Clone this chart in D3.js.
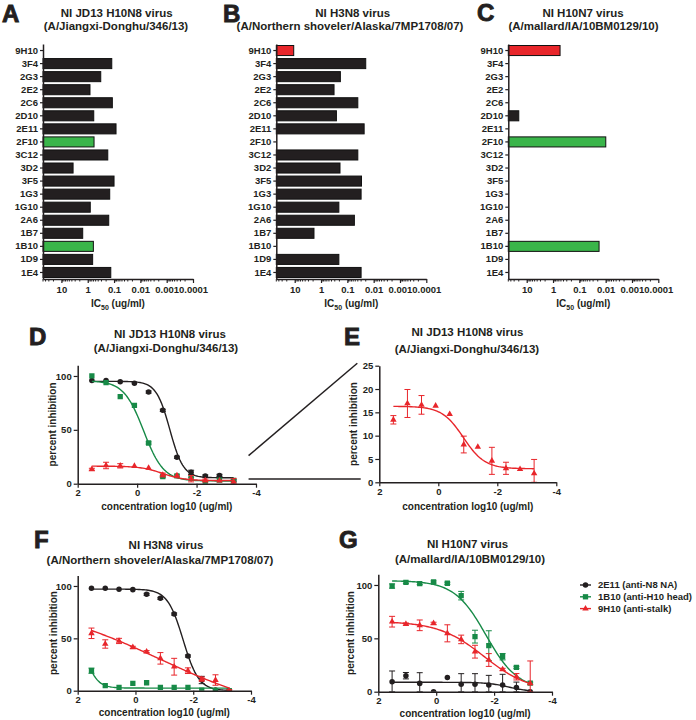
<!DOCTYPE html>
<html><head><meta charset="utf-8">
<script src="https://cdn.jsdelivr.net/npm/d3@7"></script>
<style>
body{margin:0;background:#fff;}
svg text{font-family:"Liberation Sans",Arial,sans-serif;font-weight:bold;fill:#231f20;}
</style></head><body>
<svg id="chart" width="696" height="720"></svg>
<script>
// ---------- DATA ----------
const antibodies = ["9H10","3F4","2G3","2E2","2C6","2D10","2E11","2F10","3C12","3D2","3F5","1G3","1G10","2A6","1B7","1B10","1D9","1E4"];
const antibodyTarget = ["stalk","NA","NA","NA","NA","NA","NA","head","NA","NA","NA","NA","NA","NA","NA","head","NA","NA"];
const ic50JD13  = [null,0.122,0.32,0.82,0.116,0.59,0.084,0.575,0.173,3.6,0.10,0.146,0.80,0.159,1.55,0.61,0.65,0.133];
const ic50H3N8  = [10.9,0.020,0.184,0.32,0.040,0.26,0.023,null,0.040,0.19,0.029,0.030,0.21,0.054,1.85,null,0.21,0.030];
const ic50H10N7 = [0.54,null,null,null,null,20,null,0.0099,null,null,null,null,null,null,null,0.0178,null,null];
const ic50Ticks = [10,1,0.1,0.01,0.001,0.0001];
const ic50TickLabels = ["10","1","0.1","0.01","0.001","0.0001"];

const logConc = [1.523,1.046,0.569,0.091,-0.386,-0.863,-1.340,-1.817,-2.294,-2.771,-3.248];
const concTicks = [2,0,-2,-4];
const seriesNames = ["2E11 (anti-N8 NA)","1B10 (anti-H10 head)","9H10 (anti-stalk)"];

// Panel D / E : JD13 H10N8
const jd13_2E11 = [95.7,95.7,94.7,93.2,85.1,68.1,24.5,10.5,7.1,7.7,2.7];
const jd13_2E11_sd = [0.5,0.5,0.5,0.5,1,1,1,2,1,1,1];
const jd13_1B10 = [100,93.8,80.8,72.8,37.8,6.5,7.2,5.0,1.0,3.4,3.0];
const jd13_1B10_sd = [0.5,0.5,0.5,0.5,1,1,1,1,0.5,0.5,0.5];
const jd13_9H10 = [13.4,16.9,16.6,16.4,14.6,8.1,7.6,4.6,3.0,2.8,1.9];
const jd13_9H10_sd = [0.9,3.0,2.0,0.5,0.3,1.8,0,2.9,1.3,0.4,3.0];
// fit params [top, bottom, logIC50, hill]
const jd13_fit_2E11 = [95,5.5,-1.1,1.9];
const jd13_fit_1B10 = [95.5,2.5,-0.22,1.3];
const jd13_fit_9H10 = [16.3,2.9,-0.85,1.2];

// Panel F : H3N8
const h3n8_2E11 = [97.8,97.8,96.8,96.5,92.0,88.2,73.2,33.1,10.2,0.6,0];
const h3n8_2E11_sd = [0.5,0.5,0.5,0.5,1,1,1,1,3.5,0.5,0.5];
const h3n8_1B10 = [19.1,4.8,3.2,7.0,7.6,3.2,3.2,3.2,0.6,0,0];
const h3n8_1B10_sd = [2.5,0.5,0.5,0.5,0.5,0.5,0.5,0.5,0.5,0.5,0.5];
const h3n8_9H10 = [54.8,44.6,47.5,41.4,37.3,30.9,22.9,19.1,11.0,10.2,0];
const h3n8_9H10_sd = [5,4,2.5,1,1,5.5,8,2.7,2,5,1];
const h3n8_fit_2E11 = [97,0,-1.65,1.6];
const h3n8_fit_1B10 = [100,2.5,1.885,1.89];
const h3n8_fit_9H10 = [85,-25,-0.86,0.2];

// Panel G : H10N7
const h10n7_2E11 = [9.4,15.0,7.8,0,13.4,6.9,6.9,6.3,6.3,4.0,0];
const h10n7_2E11_sd = [10,3,10,0.5,0.5,10,10,9,10,5,0.5];
const h10n7_1B10 = [99,102.5,101.3,102.8,101.6,90,51.6,43.1,32.8,22.8,8];
const h10n7_1B10_sd = [2,1,1,1,1,4,6,14,3,1,1];
const h10n7_9H10 = [65.6,63.4,62.2,64.1,54.7,49,37.5,29.7,20.9,14,7.8];
const h10n7_9H10_sd = [5,1,5,1,8,4,6,6,1,3,21];
const h10n7_fit_2E11 = [8.8,0,-2.5,1.2];
const h10n7_fit_1B10 = [104,2,-1.72,0.8];
const h10n7_fit_9H10 = [66,0,-1.654,0.553];

// ---------- STYLE ----------
const INK = "#231f20";
const barColor = d3.scaleOrdinal().domain(["NA","head","stalk"]).range([INK,"#3ab54a","#e8262b"]);
const lineColors = [INK,"#178a47","#e8262b"];
const svg = d3.select("#chart");

function styleAxis(g, fs){
  g.select(".domain").attr("stroke",INK).attr("stroke-width",1.5);
  g.selectAll(".tick line").attr("stroke",INK).attr("stroke-width",1.2);
  g.selectAll(".tick text").style("font-size",fs+"px").style("font-family",'"Liberation Sans",Arial,sans-serif').style("font-weight","bold").attr("fill",INK);
}
function letter(t,x,y){
  svg.append("text").attr("x",x).attr("y",y).text(t).style("font-size","24px")
    .attr("stroke",INK).attr("stroke-width",0.9);
}
function title(lines, xs, ys){
  lines.forEach((l,i)=>svg.append("text").attr("x",xs[i]).attr("y",ys[i]).attr("text-anchor","middle").style("font-size","11.5px").text(l));
}

// ---------- BAR PANELS ----------
function barPanel(x0, values){
  const x = d3.scaleLog().domain([50,0.0001]).range([x0, x0+150]);
  const y = d3.scaleBand().domain(antibodies).range([44,279]).paddingInner(0.23).paddingOuter(0.115);
  const g = svg.append("g");
  const rows = antibodies.map((a,i)=>({a, v:values[i], t:antibodyTarget[i]})).filter(d=>d.v!=null);
  g.selectAll("rect").data(rows).join("rect")
    .attr("x",x0).attr("y",d=>y(d.a)).attr("height",y.bandwidth())
    .attr("width",d=>x(d.v)-x0)
    .attr("fill",d=>barColor(d.t)).attr("stroke","#111").attr("stroke-width",1);
  // minor ticks
  const minors=[];
  for(let e=-4;e<=1;e++) for(let m=2;m<=9;m++){const v=m*Math.pow(10,e); if(v<=50 && v>=0.0001) minors.push(v);}
  g.append("g").selectAll("line").data(minors).join("line")
    .attr("x1",d=>x(d)).attr("x2",d=>x(d)).attr("y1",279).attr("y2",281.5)
    .attr("stroke",INK).attr("stroke-width",1);
  const xa = g.append("g").attr("transform","translate(0,279)")
    .call(d3.axisBottom(x).tickValues(ic50Ticks).tickFormat((d,i)=>ic50TickLabels[i]).tickSize(4).tickSizeOuter(0).tickPadding(3));
  styleAxis(xa,9.5);
  const ya = g.append("g").attr("transform",`translate(${x0},0)`)
    .call(d3.axisLeft(y).tickSize(3).tickSizeOuter(0).tickPadding(2));
  styleAxis(ya,9.5);
  const lbl = g.append("text").attr("x",x0+75).attr("y",307).attr("text-anchor","middle").style("font-size","10px");
  lbl.append("tspan").text("IC");
  lbl.append("tspan").attr("dy",2.5).style("font-size","7px").text("50");
  lbl.append("tspan").attr("dy",-2.5).text(" (ug/ml)");
}
barPanel(43, ic50JD13);
barPanel(276.3, ic50H3N8);
barPanel(508.3, ic50H10N7);
letter("A",2,22); letter("B",223,22); letter("C",477,21);
title(["NI JD13 H10N8 virus","(A/Jiangxi-Donghu/346/13)"],[116.7,116],[16.5,29.5]);
title(["NI H3N8 virus","(A/Northern shoveler/Alaska/7MP1708/07)"],[352.7,350],[16.5,29.5]);
title(["NI H10N7 virus","(A/mallard/IA/10BM0129/10)"],[583,583.5],[16.5,29.5]);

// ---------- LINE PANELS ----------
function fourPL(p, xv){ return p[1] + (p[0]-p[1])/(1+Math.pow(10,(p[2]-xv)*p[3])); }
const symbols = [d3.symbolCircle, d3.symbolSquare, d3.symbolTriangle];
const symSizes = [24, 28, 18];

function linePanel(cfg){
  const x = d3.scaleLinear().domain([2,-4]).range(cfg.xr);
  const y = d3.scaleLinear().domain(cfg.yd).range(cfg.yr);
  const g = svg.append("g");
  const clipId = "clip"+cfg.id;
  svg.append("clipPath").attr("id",clipId).append("rect")
    .attr("x",cfg.xr[0]).attr("y",cfg.yr[1]-10).attr("width",cfg.xr[1]-cfg.xr[0]+10).attr("height",cfg.yr[0]-cfg.yr[1]+10);
  const plot = g.append("g").attr("clip-path",`url(#${clipId})`);
  cfg.series.forEach((s,k)=>{
    if(!s) return;
    const col = lineColors[k];
    const pts = logConc.map((c,i)=>({c, v:s.vals[i], e:s.sd[i]}));
    const eg = plot.append("g").attr("stroke",col).attr("stroke-width",1);
    pts.filter(d=>d.e>0.8).forEach(d=>{
      const yt=y(d.v+d.e), yb=y(Math.max(cfg.yd[0],d.v-d.e)), xc=x(d.c);
      eg.append("line").attr("x1",xc).attr("x2",xc).attr("y1",yt).attr("y2",yb);
      eg.append("line").attr("x1",xc-3).attr("x2",xc+3).attr("y1",yt).attr("y2",yt);
      eg.append("line").attr("x1",xc-3).attr("x2",xc+3).attr("y1",yb).attr("y2",yb);
    });
    const xs = d3.range(0,101).map(i=>logConc[0]+(logConc[logConc.length-1]-logConc[0])*i/100);
    plot.append("path").datum(xs).attr("fill","none").attr("stroke",col).attr("stroke-width",1.4)
      .attr("d",d3.line().x(d=>x(d)).y(d=>y(fourPL(s.fit,d))));
    plot.append("g").selectAll("path").data(pts).join("path")
      .attr("transform",d=>`translate(${x(d.c)},${y(d.v)})`)
      .attr("d",d3.symbol().type(symbols[k]).size(symSizes[k])).attr("fill",col);
  });
  const xa = g.append("g").attr("transform",`translate(0,${cfg.yr[0]})`)
    .call(d3.axisBottom(x).tickValues(concTicks).tickFormat(d=>String(d)).tickSize(4).tickSizeOuter(0).tickPadding(2));
  styleAxis(xa,9.5);
  const ya = g.append("g").attr("transform",`translate(${cfg.xr[0]},0)`)
    .call(d3.axisLeft(y).tickValues(cfg.yticks).tickSize(4).tickSizeOuter(0).tickPadding(2));
  styleAxis(ya,9.5);
  g.append("text").attr("transform",`translate(${cfg.ylx},${(cfg.yr[0]+cfg.yr[1])/2}) rotate(-90)`)
    .attr("text-anchor","middle").attr("dy","0.35em").style("font-size","10px").text("percent inhibition");
  g.append("text").attr("x",(cfg.xr[0]+cfg.xr[1])/2).attr("y",cfg.xly).attr("dy","0.35em")
    .attr("text-anchor","middle").style("font-size","10px").text("concentration log10 (ug/ml)");
  return {x,y};
}

const D = linePanel({id:"D", xr:[77.7,256], yr:[483.7,365.2], yd:[0,110], yticks:[0,50,100], ylx:52, xly:506.5,
  series:[{vals:jd13_2E11,sd:jd13_2E11_sd,fit:jd13_fit_2E11},{vals:jd13_1B10,sd:jd13_1B10_sd,fit:jd13_fit_1B10},{vals:jd13_9H10,sd:jd13_9H10_sd,fit:jd13_fit_9H10}]});
const E = linePanel({id:"E", xr:[379.3,556.3], yr:[482.3,365.7], yd:[0,25], yticks:[0,5,10,15,20,25], ylx:353.3, xly:506.5,
  series:[null,null,{vals:jd13_9H10,sd:jd13_9H10_sd,fit:jd13_fit_9H10}]});
const F = linePanel({id:"F", xr:[77.7,251], yr:[690.7,575.5], yd:[0,110], yticks:[0,50,100], ylx:53.3, xly:712.3,
  series:[{vals:h3n8_2E11,sd:h3n8_2E11_sd,fit:h3n8_fit_2E11},{vals:h3n8_1B10,sd:h3n8_1B10_sd,fit:h3n8_fit_1B10},{vals:h3n8_9H10,sd:h3n8_9H10_sd,fit:h3n8_fit_9H10}]});
const G = linePanel({id:"G", xr:[378.3,552], yr:[691.7,574.3], yd:[0,110], yticks:[0,50,100], ylx:350, xly:713,
  series:[{vals:h10n7_2E11,sd:h10n7_2E11_sd,fit:h10n7_fit_2E11},{vals:h10n7_1B10,sd:h10n7_1B10_sd,fit:h10n7_fit_1B10},{vals:h10n7_9H10,sd:h10n7_9H10_sd,fit:h10n7_fit_9H10}]});

// zoom connector lines between D and E
svg.append("line").attr("x1",D.x(-3.75)).attr("y1",D.y(26)).attr("x2",357.3).attr("y2",E.y(25)-2.5)
  .attr("stroke",INK).attr("stroke-width",1.5);
svg.append("line").attr("x1",D.x(-3.75)).attr("x2",360.7).attr("y1",D.y(4.4)).attr("y2",D.y(4.4))
  .attr("stroke",INK).attr("stroke-width",1.5);

letter("D",29,345); letter("E",344,345); letter("F",34,548); letter("G",339,548);
title(["NI JD13 H10N8 virus","(A/Jiangxi-Donghu/346/13)"],[170,166],[337.5,352]);
title(["NI JD13 H10N8 virus","(A/Jiangxi-Donghu/346/13)"],[467.5,467],[336,352.5]);
title(["NI H3N8 virus","(A/Northern shoveler/Alaska/7MP1708/07)"],[166,160],[549,563.5]);
title(["NI H10N7 virus","(A/mallard/IA/10BM0129/10)"],[467.5,470],[547.5,562.5]);

// legend
const leg = svg.append("g");
seriesNames.forEach((n,k)=>{
  const yy = 585 + k*11.8;
  leg.append("line").attr("x1",580).attr("x2",591).attr("y1",yy).attr("y2",yy).attr("stroke",lineColors[k]).attr("stroke-width",1.4);
  leg.append("path").attr("transform",`translate(585.5,${yy})`).attr("d",d3.symbol().type(symbols[k]).size(symSizes[k])).attr("fill",lineColors[k]);
  leg.append("text").attr("x",598).attr("y",yy).attr("dy","0.35em").style("font-size","9.5px").text(n);
});
</script></body></html>
